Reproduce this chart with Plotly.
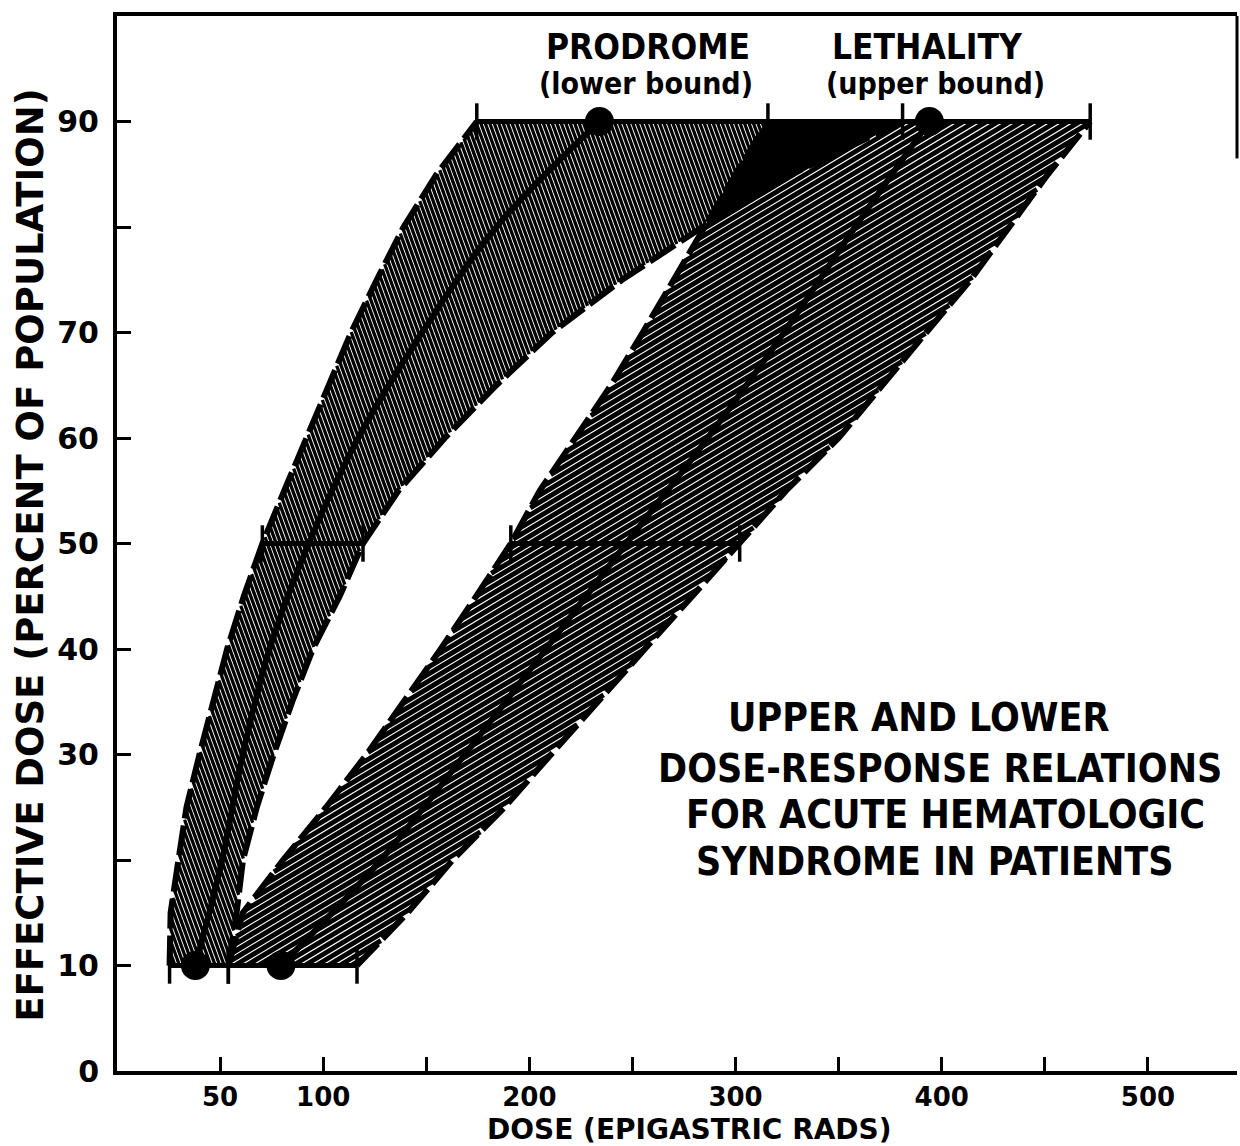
import numpy as np
import plotly.graph_objects as go

# Percent-of-population levels for the band outlines
pct = [10, 15, 20, 25, 30, 35, 40, 45, 50, 55, 60, 65, 70, 75, 80, 85, 90]

# Prodrome (lower bound): band edges in epigastric rads
prod_lo = [25.5, 26, 29.8, 33.7, 40, 46.6, 53.4, 61.5, 70.5, 81.1, 92, 102.5, 113.5, 126, 139, 155, 174.5]
prod_hi = [54, 58, 61.1, 67.8, 76, 85, 95, 108, 119.3, 136.5, 159, 184, 211, 245, 284, 327, 381]

# Lethality (upper bound): band edges in epigastric rads
leth_lo = [54, 61, 80.5, 101.4, 121, 139.3, 157, 174.2, 191, 205, 222.5, 239.6, 255, 269.8, 285.2, 300, 315.7]
leth_hi = [116.4, 141, 162.8, 188, 210.5, 233, 256, 279, 302, 324.5, 350, 371, 392.5, 414, 433, 451.5, 472]

# Central dose-response curves
mid_pct = [10, 20, 30, 40, 50, 60, 70, 80, 90]
prod_mid = [38, 51, 61, 74, 93, 117, 148, 184, 234]
leth_mid = [79.5, 128, 168.7, 208, 247, 286.5, 323.5, 358, 394]

# Levels carrying error bars
bar_pct = [10, 50, 90]

# Axis ticks
x_tickvals = [50, 100, 150, 200, 250, 300, 350, 400, 450, 500]
x_ticktext = ["50", "100", "", "200", "", "300", "", "400", "", "500"]
y_tickvals = [0, 10, 20, 30, 40, 50, 60, 70, 80, 90]
y_ticktext = ["0", "10", "", "30", "40", "50", "60", "70", "", "90"]

# Text blocks
caption_lines = ["UPPER AND LOWER", "DOSE-RESPONSE RELATIONS",
                 "FOR ACUTE HEMATOLOGIC", "SYNDROME IN PATIENTS"]

# ---- geometry -------------------------------------------------------------
W, H = 1240, 1146
ML, MR, MT, MB = 117, 3, 16, 75
XMAX, YMAX = 543.2, 100
KX = (W - ML - MR) / XMAX   # px per rad
KY = (H - MT - MB) / YMAX   # px per percent

COND = "DejaVu Sans Condensed, DejaVu Sans, sans-serif"
WIDE = "DejaVu Sans, sans-serif"
BLACK = "#000000"


def hatch(xs, ys, angle_deg, spacing):
    """Parallel hatch segments clipped to the polygon (xs, ys), in screen-isotropic space."""
    P = np.column_stack([np.asarray(xs, float) * KX, np.asarray(ys, float) * KY])
    th = np.radians(angle_deg)
    d = np.array([np.cos(th), np.sin(th)])
    n = np.array([-np.sin(th), np.cos(th)])
    proj = P @ n
    hx, hy = [], []
    s = proj.min() + spacing / 2
    m = len(P)
    while s < proj.max():
        ts = []
        for k in range(m):
            a, b = P[k], P[(k + 1) % m]
            fa, fb = a @ n - s, b @ n - s
            if (fa < 0) != (fb < 0):
                t = fa / (fa - fb)
                q = a + t * (b - a)
                ts.append(q @ d)
        ts.sort()
        for i in range(0, len(ts) - 1, 2):
            p0 = s * n + ts[i] * d
            p1 = s * n + ts[i + 1] * d
            hx += [p0[0] / KX, p1[0] / KX, None]
            hy += [p0[1] / KY, p1[1] / KY, None]
        s += spacing
    return hx, hy


fig = go.Figure()

# Hatched bands
prod_poly_x = prod_lo + prod_hi[::-1]
leth_poly_x = leth_lo + leth_hi[::-1]
poly_y = pct + pct[::-1]

hx, hy = hatch(prod_poly_x, poly_y, 110, 4.2)
fig.add_trace(go.Scatter(x=hx, y=hy, mode="lines", line=dict(color=BLACK, width=3.3),
                         hoverinfo="skip"))
hx, hy = hatch(leth_poly_x, poly_y, 31, 6.0)
fig.add_trace(go.Scatter(x=hx, y=hy, mode="lines", line=dict(color=BLACK, width=4.9),
                         hoverinfo="skip"))

# Overlap of the two bands near the top (solid black)
i80 = pct.index(80)
ov_x = prod_hi[i80:] + leth_lo[i80:][::-1]
ov_y = pct[i80:] + pct[i80:][::-1]
fig.add_trace(go.Scatter(x=ov_x, y=ov_y, mode="lines", fill="toself", fillcolor=BLACK,
                         line=dict(color=BLACK, width=1), hoverinfo="skip"))

# Dashed band outlines
for edge in (prod_lo, prod_hi, leth_lo, leth_hi):
    fig.add_trace(go.Scatter(x=edge, y=pct, mode="lines",
                             line=dict(color=BLACK, width=6, dash="30px,7px"),
                             hoverinfo="skip"))

# Central curves
for mid in (prod_mid, leth_mid):
    fig.add_trace(go.Scatter(x=mid, y=mid_pct, mode="lines",
                             line=dict(color=BLACK, width=6, shape="spline"),
                             hoverinfo="skip"))

# Error bars at 10, 50 and 90 percent
for p in bar_pct:
    i = pct.index(p)
    for lo, hi in ((prod_lo, prod_hi), (leth_lo, leth_hi)):
        fig.add_trace(go.Scatter(x=[lo[i], hi[i]], y=[p, p], mode="lines+markers",
                                 line=dict(color=BLACK, width=5),
                                 marker=dict(symbol="line-ns", size=26,
                                             line=dict(color=BLACK, width=3.5)),
                                 hoverinfo="skip"))

# Dots at the 10 and 90 percent points of each curve
dot_x = [prod_mid[0], prod_mid[-1], leth_mid[0], leth_mid[-1]]
dot_y = [mid_pct[0], mid_pct[-1], mid_pct[0], mid_pct[-1]]
fig.add_trace(go.Scatter(x=dot_x, y=dot_y, mode="markers",
                         marker=dict(color=BLACK, size=29), hoverinfo="skip"))


# Labels
def label(text, x, y, size, family=COND, xref="x", yref="y", angle=0):
    fig.add_annotation(text=text, x=x, y=y, xref=xref, yref=yref, showarrow=False,
                       xanchor="center", yanchor="middle", textangle=angle, align="center",
                       borderpad=0,
                       font=dict(family=family, size=size, color=BLACK, weight="bold"))


label("PRODROME", 257.5, 97.1, 35)
label("(lower bound)", 256.5, 93.6, 30)
label("LETHALITY", 393.3, 97.1, 35)
label("(upper bound)", 397.2, 93.6, 30)

cap_x = [388.5, 399.2, 401.6, 396.7]
cap_y = [33.5, 28.7, 24.3, 19.9]
for txt, cx, cy in zip(caption_lines, cap_x, cap_y):
    label(txt, cx, cy, 39)

label("DOSE (EPIGASTRIC RADS)", 0.511, -0.0555, 28, WIDE, "paper", "paper")
label("EFFECTIVE DOSE (PERCENT OF POPULATION)", -0.078, 0.489, 37, WIDE,
      "paper", "paper", -90)

# Right frame edge (short stub at the top)
fig.add_shape(type="line", xref="paper", yref="paper", x0=1, x1=1, y0=1, y1=0.865,
              line=dict(color=BLACK, width=3))

axis_common = dict(showgrid=False, zeroline=False, showline=True, linecolor=BLACK,
                   ticks="inside", tickcolor=BLACK, tickwidth=3, ticklen=14)

fig.update_layout(
    width=W, height=H, autosize=False,
    margin=dict(l=ML, r=MR, t=MT, b=MB),
    plot_bgcolor="white", paper_bgcolor="white",
    showlegend=False,
    xaxis=dict(range=[0, XMAX], tickmode="array", tickvals=x_tickvals, ticktext=x_ticktext,
               linewidth=3.5, mirror=True, ticklabelstandoff=0,
               tickfont=dict(family=WIDE, size=26, color=BLACK, weight="bold"),
               **axis_common),
    yaxis=dict(range=[0, YMAX], tickmode="array", tickvals=y_tickvals, ticktext=y_ticktext,
               linewidth=4, mirror=False, ticklabelstandoff=8,
               tickfont=dict(family=WIDE, size=30, color=BLACK, weight="bold"),
               **axis_common),
)

fig.write_html("out.html")
